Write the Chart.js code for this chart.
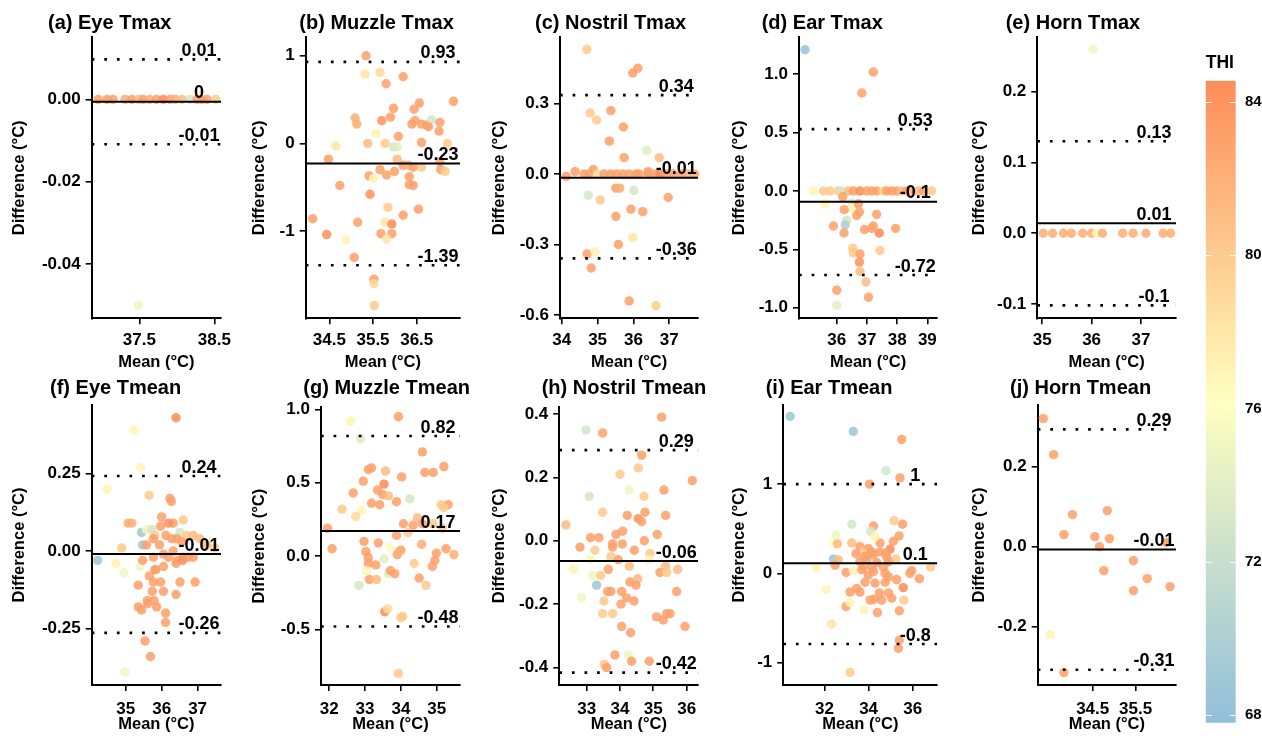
<!DOCTYPE html>
<html>
<head>
<meta charset="utf-8">
<title>Bland-Altman plots by THI</title>
<script src="https://cdn.jsdelivr.net/npm/chart.js@4.4.1/dist/chart.umd.min.js"></script>
<style>
  body { margin: 0; background: #fff; width: 1262px; height: 741px; position: relative; overflow: hidden; }
  canvas { position: absolute; }
</style>
</head>
<body>
<script>
// THI colour scale (legend range and ticks)
const thiMin = 67.8, thiMax = 84.55;
const thiTicks = [68, 72, 76, 80, 84];

// (a) Eye Tmax
const eyeMaxMean = [36.95, 37.07, 37.15, 37.31, 37.40, 37.49, 37.55, 37.64, 37.73, 37.82, 37.91, 37.98, 38.07, 38.18, 38.27, 38.33, 38.40, 38.52, 37.49];
const eyeMaxDiff = [0, 0, 0, 0, 0, 0, 0, 0, 0, 0, 0, 0, 0, 0, 0, 0, 0, 0, -0.05];
const eyeMaxThi = [83, 83, 83, 82, 83, 81, 83, 82, 83, 84.5, 83, 82, 81, 73, 83, 83, 83, 80, 75];

// (b) Muzzle Tmax
const muzzleMaxMean = [35.34, 35.32, 35.66, 35.80, 36.19, 37.34, 36.56, 36.44, 35.97, 35.09,
  35.13, 35.70, 35.90, 36.39, 36.46, 36.61, 36.73, 36.84, 37.03, 36.77,
  37.01, 36.08, 34.65, 35.38, 35.57, 35.78, 35.97, 36.05, 36.61, 37.20,
  34.48, 36.05, 36.19, 36.31, 37.03, 36.61, 36.42, 35.66, 35.81, 35.99,
  37.05, 37.15, 35.41, 35.51, 36.33, 36.33, 36.42, 34.74, 35.43, 35.84,
  36.54, 36.19, 34.12, 35.15, 35.78, 35.93, 34.44, 34.88, 35.68, 35.93,
  35.81, 35.07, 35.52, 35.52, 35.53];
const muzzleMaxDiff = [1.00, 0.79, 0.81, 0.68, 0.76, 0.48, 0.46, 0.39, 0.40, 0.29,
  0.22, 0.26, 0.30, 0.22, 0.26, 0.22, 0.21, 0.27, 0.24, 0.19,
  0.14, 0.08, -0.03, 0.00, 0.11, 0.00, -0.04, -0.04, 0.01, 0.00,
  -0.18, -0.18, -0.25, -0.25, -0.21, -0.27, -0.27, -0.30, -0.36, -0.32,
  -0.30, -0.32, -0.37, -0.40, -0.38, -0.47, -0.48, -0.48, -0.58, -0.73,
  -0.75, -0.82, -0.86, -0.90, -0.90, -0.92, -1.04, -1.10, -1.03, -1.03,
  -1.09, -1.30, -1.55, -1.60, -1.85];
const muzzleMaxThi = [83, 78, 79, 83, 83, 83, 83, 83, 83, 82,
  82, 84, 83, 83, 83, 83, 83, 73, 83, 83,
  83, 83, 78, 81, 77, 80, 73, 74, 83, 80,
  83, 81, 83, 82, 82, 80, 83, 83, 83, 83,
  83, 80, 83, 77, 83, 83, 83, 83, 84, 80,
  83, 83, 83, 83, 78, 84.5, 84, 77, 83, 83,
  78, 83, 83, 79, 80];

// (c) Nostril Tmax
const nostrilMaxMean = [34.70, 35.98, 36.12, 34.79, 34.97, 35.37, 35.72, 35.33, 35.74, 36.37,
  36.72, 34.88, 34.37, 36.41,
  34.12, 34.62, 34.77, 34.99, 35.18, 35.36, 35.53, 35.70, 35.88, 36.07,
  36.16, 36.41, 36.60, 36.74, 36.92, 37.11, 37.34, 37.53, 37.71,
  34.74, 35.07, 35.51, 35.62, 36.01, 36.97, 35.93, 36.26, 35.51, 35.58,
  35.98, 34.71, 34.93, 34.82, 35.88, 36.63];
const nostrilMaxDiff = [0.53, 0.43, 0.45, 0.26, 0.23, 0.27, 0.20, 0.14, 0.07, 0.10,
  0.07, 0.02, 0.01, 0.01,
  -0.01, 0, 0, 0, 0, 0, 0, 0, 0, 0,
  0, 0, 0, 0, 0, 0, 0, 0, 0,
  -0.09, -0.11, -0.06, -0.06, -0.07, -0.10, -0.15, -0.16, -0.18, -0.30,
  -0.27, -0.34, -0.33, -0.40, -0.54, -0.56];
const nostrilMaxThi = [80, 83, 83, 80, 80, 83, 83, 83, 83, 74,
  81, 83, 83, 83,
  83, 83, 83, 79, 83, 83, 83, 83, 83, 83,
  83, 83, 83, 84.5, 83, 83, 83, 82, 82,
  73, 80, 83, 82, 73, 83, 83, 83, 83, 83,
  78, 83, 77, 83, 83, 80];

// (d) Ear Tmax
const earMaxMean = [34.95, 37.21, 36.83,
  35.23, 35.56, 35.78, 36.06, 36.17, 36.39, 36.55, 36.77, 36.99, 37.16, 37.32,
  37.54, 37.65, 37.82, 37.98, 38.15, 38.32, 38.48, 38.70, 38.87, 39.14,
  35.61, 36.20, 36.50, 36.55, 36.72, 36.25, 36.66, 36.75, 37.32, 36.33,
  36.28, 35.89, 36.24, 36.92, 37.16, 37.21, 37.41, 37.95, 36.53, 36.55,
  36.77, 37.43, 36.75, 36.77, 36.97, 36.00, 37.05, 36.00];
const earMaxDiff = [1.21, 1.02, 0.84,
  0, 0, 0, 0, 0, 0, 0, 0, 0, 0, 0,
  0, 0, 0, 0, 0, 0, 0, 0, 0, 0,
  -0.11, -0.05, -0.10, -0.15, -0.11, -0.16, -0.21, -0.18, -0.20, -0.25,
  -0.29, -0.30, -0.36, -0.33, -0.32, -0.30, -0.36, -0.32, -0.49, -0.53,
  -0.54, -0.51, -0.61, -0.69, -0.78, -0.85, -0.91, -0.98];
const earMaxThi = [68.5, 83, 83,
  77, 80, 80, 80, 73, 81, 83, 84.5, 83, 83, 83,
  79, 83, 83, 83, 81, 83, 81, 81, 83, 80,
  77, 83, 74, 77, 83, 83, 83, 83, 83, 73,
  70, 83, 83, 83, 83, 83, 84.5, 83, 80, 80,
  83, 80, 84, 81, 81, 83, 83, 74];

// (e) Horn Tmax
const hornMaxMean = [36.03, 35.02, 35.21, 35.43, 35.59, 35.82, 36.00, 36.10, 36.22, 36.63, 36.84, 37.10, 37.45, 37.60];
const hornMaxDiff = [0.26, 0, 0, 0, 0, 0, 0, 0, 0, 0, 0, 0, 0, 0];
const hornMaxThi = [75, 82, 82, 82, 82, 82, 82, 77, 82, 82, 82, 82, 82, 82];

// (f) Eye Tmean
const eyeMeanMean = [36.40, 35.23, 35.42, 34.49, 35.65, 36.23, 36.27, 35.07, 35.17, 36.00,
  36.32, 36.60, 35.44, 35.58, 35.72, 36.19, 35.97, 36.12, 36.51, 35.47,
  35.81, 36.28, 36.69, 36.88, 37.06, 36.56, 36.42, 35.58, 35.77, 34.89,
  37.48, 37.25, 34.22, 34.73, 35.40, 35.47, 35.77, 35.94, 36.05, 36.19,
  36.32, 36.42, 36.60, 36.74, 36.88, 34.95, 35.81, 35.66, 36.05, 35.84,
  36.40, 36.58, 35.77, 35.97, 35.35, 36.51, 36.93, 35.74, 36.05, 36.40,
  35.60, 35.79, 35.35, 35.44, 35.61, 35.86, 36.11, 36.11, 35.54, 35.69,
  34.98];
const eyeMeanDiff = [0.43, 0.39, 0.27, 0.20, 0.18, 0.17, 0.16, 0.09, 0.09, 0.11,
  0.09, 0.10, 0.06, 0.07, 0.07, 0.09, 0.08, 0.05, 0.06, 0.02,
  0.05, 0.04, 0.05, 0.05, 0.04, 0.03, 0.04, 0.02, 0.04, 0.01,
  0.01, 0.02, -0.03, -0.04, -0.05, -0.03, -0.02, 0.02, -0.01, -0.02,
  0.00, -0.03, -0.02, -0.02, -0.02, -0.07, -0.06, -0.08, -0.05, -0.06,
  -0.04, -0.03, -0.10, -0.10, -0.11, -0.10, -0.10, -0.13, -0.13, -0.14,
  -0.16, -0.16, -0.18, -0.19, -0.17, -0.18, -0.20, -0.23, -0.29, -0.34,
  -0.39];
const eyeMeanThi = [84.5, 77, 77, 77, 80, 83, 83, 82, 82, 83,
  83, 80, 69, 77, 73, 84, 83, 83, 73, 69,
  80, 83, 80, 81, 81, 83, 83, 83, 83, 80,
  80, 81, 69, 77, 75, 83, 83, 83, 83, 83,
  83, 83, 84, 83, 83, 75, 83, 83, 83, 83,
  83, 84, 83, 83, 83, 83, 83, 83, 83, 83,
  83, 83, 83, 83, 83, 83, 83, 83, 83, 83,
  75];

// (g) Muzzle Tmean
const muzzleMeanMean = [33.93, 32.60, 32.87, 34.60, 34.67, 34.90, 35.20, 33.09, 33.18, 33.57,
  34.02, 32.95, 32.67, 33.53, 33.35, 33.49, 33.65, 34.25, 32.36, 32.90,
  32.74, 33.18, 33.41, 33.88, 35.12, 35.32, 35.20, 31.95, 34.07, 34.34,
  34.46, 34.60, 34.90, 35.16, 34.20, 32.08, 32.97, 33.37, 33.88, 33.69,
  33.02, 34.00, 34.58, 34.99, 35.26, 35.48, 33.09, 33.90, 33.95, 33.09,
  33.30, 33.53, 34.95, 34.37, 34.88, 33.04, 33.12, 33.32, 33.65, 33.71,
  33.83, 34.51, 34.70, 32.83, 33.55, 33.63, 34.05, 34.00, 33.93];
const muzzleMeanDiff = [0.95, 0.92, 0.80, 0.71, 0.57, 0.57, 0.61, 0.59, 0.60, 0.58,
  0.54, 0.51, 0.43, 0.49, 0.45, 0.42, 0.41, 0.39, 0.32, 0.31,
  0.27, 0.36, 0.35, 0.37, 0.35, 0.35, 0.33, 0.19, 0.22, 0.21,
  0.26, 0.22, 0.22, 0.19, 0.16, 0.05, 0.10, 0.09, 0.14, 0.06,
  0.03, 0.04, 0.08, 0.02, 0.05, 0.01, -0.01, 0.01, 0.03, -0.05,
  -0.06, -0.02, -0.03, -0.05, -0.07, -0.10, -0.16, -0.16, -0.12, -0.10,
  -0.12, -0.15, -0.20, -0.20, -0.38, -0.36, -0.41, -0.42, -0.80];
const muzzleMeanThi = [83, 77, 73.5, 83, 83, 83, 83, 83, 83, 81,
  83, 83, 83, 84.5, 83, 83, 81, 73, 80, 77,
  79, 83, 83, 83, 80, 83, 80, 83, 83, 83,
  81, 83, 80, 80, 80, 83, 83, 83, 83, 76.5,
  83, 83, 82, 83, 83, 82, 83, 83, 82, 83,
  83, 74, 83, 80, 83, 77, 83, 81, 74, 83,
  83, 83, 80, 73, 84.5, 79, 80, 80, 80];

// (h) Nostril Tmean
const nostrilMeanMean = [35.25, 32.98, 33.48, 34.65, 34.55, 34.00, 36.17, 35.32, 34.28, 34.72,
  33.08, 33.48, 34.22, 34.75, 35.37, 34.55, 34.65, 32.38, 34.08, 33.88,
  35.12, 33.12, 33.37, 33.78, 34.07, 34.73, 32.80, 33.78, 33.25, 34.43,
  34.90, 33.73, 33.95, 33.10, 34.88, 34.28, 35.37, 35.73, 32.60, 35.20,
  35.40, 33.65, 33.18, 33.42, 34.53, 34.30, 33.30, 34.48, 33.63, 33.73,
  34.05, 35.70, 34.20, 34.42, 32.85, 33.52, 34.03, 33.48, 33.78, 35.10,
  35.30, 35.40, 35.50, 34.05, 35.95, 34.32, 33.85, 34.25, 34.35, 34.88,
  33.53, 33.60];
const nostrilMeanDiff = [0.39, 0.35, 0.34, 0.27, 0.23, 0.21, 0.19, 0.16, 0.16, 0.14,
  0.14, 0.09, 0.08, 0.09, 0.08, 0.07, 0.06, 0.05, 0.03, 0.02,
  0.02, 0.01, 0.01, -0.01, -0.01, 0.00, -0.02, -0.02, -0.03, -0.03,
  -0.04, -0.05, -0.06, -0.06, -0.06, -0.08, -0.08, -0.09, -0.09, -0.10,
  -0.10, -0.09, -0.11, -0.11, -0.12, -0.13, -0.14, -0.14, -0.16, -0.16,
  -0.16, -0.16, -0.18, -0.19, -0.18, -0.19, -0.20, -0.23, -0.23, -0.24,
  -0.25, -0.23, -0.23, -0.27, -0.27, -0.29, -0.36, -0.36, -0.38, -0.38,
  -0.39, -0.40];
const nostrilMeanThi = [83, 73, 83, 83, 80, 80, 83, 83, 75, 80,
  73, 80, 83, 83, 83, 84, 83, 81, 83, 83,
  83, 83, 83, 83, 83, 83, 83, 83, 80, 83,
  80, 80, 83, 77, 77, 81, 81, 81, 77, 83,
  80, 83, 75, 80, 81, 83, 69, 83, 83, 83,
  83, 83, 83, 83, 75, 80, 83, 80, 80, 83,
  83, 83, 83, 83, 83, 83, 83, 75, 83, 83,
  80, 83];

// (i) Ear Tmean
const earMeanMean = [30.45, 33.31, 35.50, 34.79, 35.42, 34.04, 33.24, 35.15, 34.22, 35.54,
  34.10, 32.53, 35.38, 35.12, 34.52, 33.24, 32.41, 32.59, 34.29, 33.61,
  33.99, 34.14, 33.73, 34.52, 34.97, 34.79, 32.41, 32.63, 33.43, 33.84,
  34.22, 35.24, 32.48, 33.61, 33.92, 34.37, 34.90, 34.82, 33.76, 34.14,
  34.67, 31.65, 36.81, 32.98, 33.31, 33.69, 34.22, 34.75, 35.95, 35.87,
  33.99, 34.90, 35.27, 36.30, 32.08, 33.46, 33.84, 34.29, 34.75, 35.57,
  33.16, 33.61, 34.49, 34.90, 32.98, 33.16, 34.07, 34.25, 35.05, 35.60,
  34.59, 33.79, 34.40, 35.39, 32.33, 35.39, 35.35, 33.16];
const earMeanDiff = [1.76, 1.59, 1.50, 1.15, 1.07, 1.00, 0.55, 0.59, 0.53, 0.55,
  0.47, 0.43, 0.42, 0.36, 0.34, 0.34, 0.34, 0.33, 0.41, 0.30,
  0.28, 0.24, 0.23, 0.24, 0.27, 0.23, 0.16, 0.15, 0.22, 0.19,
  0.21, 0.16, 0.09, 0.13, 0.15, 0.12, 0.13, 0.18, 0.07, 0.07,
  0.07, 0.06, 0.07, 0.01, 0.03, 0.04, 0.02, 0.00, 0.03, 0.00,
  -0.02, -0.04, -0.07, -0.06, -0.18, -0.17, -0.10, -0.11, -0.10, -0.16,
  -0.21, -0.21, -0.22, -0.22, -0.37, -0.33, -0.30, -0.29, -0.28, -0.30,
  -0.30, -0.41, -0.44, -0.42, -0.57, -0.75, -0.84, -1.11];
const earMeanThi = [69, 69, 83, 73, 83, 83, 73, 80, 83, 83,
  73, 75, 83, 83, 83, 81, 76, 81, 77, 83,
  83, 83, 80, 83, 84.5, 83, 69, 81, 83, 83,
  83, 80, 83, 83, 83, 83, 83, 83, 83, 83,
  83, 77, 80, 83, 77, 83, 83, 83, 83, 83,
  83, 83, 83, 83, 77, 83, 83, 83, 83, 84.5,
  83, 83, 83, 83, 83, 77, 83, 83, 83, 80,
  83, 77, 83, 83, 78, 83, 83, 80];

// (j) Horn Tmean
const hornMeanMean = [33.35, 33.59, 34.03, 34.84, 33.83, 34.55, 34.89, 34.66, 36.22, 34.76, 35.45, 35.77, 35.45, 36.30, 33.51, 33.83];
const hornMeanDiff = [0.32, 0.23, 0.08, 0.09, 0.03, 0.025, 0.02, 0.00, 0.01, -0.06, -0.035, -0.08, -0.11, -0.10, -0.22, -0.315];
const hornMeanThi = [83, 83, 83, 83, 83, 83, 83, 83, 83, 83, 83, 83, 83, 83, 77, 83];

// bias and limits of agreement
const panelTitles = ['(a) Eye Tmax', '(b) Muzzle Tmax', '(c) Nostril Tmax', '(d) Ear Tmax', '(e) Horn Tmax',
  '(f) Eye Tmean', '(g) Muzzle Tmean', '(h) Nostril Tmean', '(i) Ear Tmean', '(j) Horn Tmean'];
const biasValues = [-0.0006, -0.23, -0.016, -0.092, 0.014, -0.0097, 0.17, -0.064, 0.112, -0.007];
const upperLimits = [0.0097, 0.93, 0.336, 0.53, 0.130, 0.242, 0.818, 0.286, 1.0, 0.293];
const lowerLimits = [-0.0109, -1.39, -0.359, -0.72, -0.102, -0.264, -0.48, -0.416, -0.793, -0.308];
const biasLabels = ['0', '-0.23', '-0.01', '-0.1', '0.01', '-0.01', '0.17', '-0.06', '0.1', '-0.01'];
const upperLabels = ['0.01', '0.93', '0.34', '0.53', '0.13', '0.24', '0.82', '0.29', '1', '0.29'];
const lowerLabels = ['-0.01', '-1.39', '-0.36', '-0.72', '-0.1', '-0.26', '-0.48', '-0.42', '-0.8', '-0.31'];

// axes
const xRanges = [[36.865, 38.589], [33.96, 37.49], [33.95, 37.81], [34.75, 39.33], [34.90, 37.71],
  [34.056, 37.65], [31.77, 35.65], [32.18, 36.35], [30.14, 37.11], [33.22, 36.44]];
const yRanges = [[-0.0532, 0.01507], [-1.995, 1.21], [-0.614, 0.582], [-1.091, 1.317], [-0.1202, 0.2769],
  [-0.432, 0.471], [-0.879, 1.014], [-0.455, 0.423], [-1.252, 1.887], [-0.346, 0.354]];
const xTicks = [[37.5, 38.5], [34.5, 35.5, 36.5], [34, 35, 36, 37], [36, 37, 38, 39], [35, 36, 37],
  [35, 36, 37], [32, 33, 34, 35], [33, 34, 35, 36], [32, 34, 36], [34.5, 35.5]];
const yTicks = [[-0.04, -0.02, 0], [-1, 0, 1], [-0.6, -0.3, 0, 0.3], [-1, -0.5, 0, 0.5, 1], [-0.1, 0, 0.1, 0.2],
  [-0.25, 0, 0.25], [-0.5, 0, 0.5, 1], [-0.4, -0.2, 0, 0.2, 0.4], [-1, 0, 1], [-0.2, 0, 0.2]];
const xDecimals = [1, 1, 0, 0, 0, 0, 0, 0, 0, 1];
const yDecimals = [2, 0, 1, 1, 1, 2, 1, 1, 0, 1];

const panelData = [
  [eyeMaxMean, eyeMaxDiff, eyeMaxThi], [muzzleMaxMean, muzzleMaxDiff, muzzleMaxThi],
  [nostrilMaxMean, nostrilMaxDiff, nostrilMaxThi], [earMaxMean, earMaxDiff, earMaxThi],
  [hornMaxMean, hornMaxDiff, hornMaxThi], [eyeMeanMean, eyeMeanDiff, eyeMeanThi],
  [muzzleMeanMean, muzzleMeanDiff, muzzleMeanThi], [nostrilMeanMean, nostrilMeanDiff, nostrilMeanThi],
  [earMeanMean, earMeanDiff, earMeanThi], [hornMeanMean, hornMeanDiff, hornMeanThi]
];

// plot area of each panel on the page, and where its title starts
const boxes = [
  { l: 91.7, t: 37.3, r: 221, b: 318.3, tx: 48, ty: 23.3 },
  { l: 305.7, t: 37.3, r: 460, b: 318.3, tx: 299.3, ty: 23.3 },
  { l: 560, t: 37.3, r: 698.3, b: 318.3, tx: 535, ty: 23.3 },
  { l: 799, t: 37.3, r: 937.3, b: 318.3, tx: 761.7, ty: 23.3 },
  { l: 1037.3, t: 37.3, r: 1176, b: 318.3, tx: 1005.7, ty: 23.3 },
  { l: 91.7, t: 405, r: 221, b: 685, tx: 50, ty: 388.2 },
  { l: 321, t: 407.3, r: 460, b: 685, tx: 303.3, ty: 388.2 },
  { l: 559.3, t: 406.7, r: 698.3, b: 685, tx: 541.7, ty: 388.2 },
  { l: 783.3, t: 405, r: 937.3, b: 685, tx: 765.7, ty: 388.2 },
  { l: 1037.7, t: 405, r: 1176, b: 685, tx: 1010, ty: 388.2 }
];

const FONT = '"Liberation Sans", Arial, Helvetica, sans-serif';
Chart.defaults.font.family = FONT;
Chart.defaults.color = '#000';

const lowRgb = [145, 191, 219], midRgb = [255, 255, 191], highRgb = [252, 141, 89];
function thiColor(v, a) {
  const t = Math.min(1, Math.max(0, (v - thiMin) / (thiMax - thiMin)));
  const c0 = t < 0.5 ? lowRgb : midRgb, c1 = t < 0.5 ? midRgb : highRgb;
  const s = t < 0.5 ? t * 2 : (t - 0.5) * 2;
  const c = c0.map((x, k) => Math.round(x + (c1[k] - x) * s));
  return `rgba(${c[0]},${c[1]},${c[2]},${a})`;
}

// panel title and the labels over the bias / LoA lines
const panelText = {
  id: 'panelText',
  afterDraw(chart, args, opts) {
    const { ctx, chartArea, scales } = chart;
    ctx.save();
    ctx.fillStyle = '#000';
    ctx.font = `bold 20px ${FONT}`;
    ctx.textAlign = 'left';
    ctx.textBaseline = 'middle';
    ctx.fillText(opts.title, opts.tx, opts.ty);
    ctx.font = `bold 18px ${FONT}`;
    ctx.textAlign = 'center';
    ctx.textBaseline = 'alphabetic';
    opts.refs.forEach(r => {
      ctx.fillText(r.text, chartArea.right - 22, scales.y.getPixelForValue(r.value) - 3.5);
    });
    ctx.restore();
  }
};

function addCanvas(x, y, w, h) {
  const c = document.createElement('canvas');
  c.width = w; c.height = h;
  c.style.left = x + 'px'; c.style.top = y + 'px';
  document.body.appendChild(c);
  return c;
}

panelData.forEach(([xs, ys, thi], i) => {
  const col = i % 5, row = i < 5 ? 0 : 1;
  const cx = col * 240, cy = row ? 370 : 0, cw = 240, ch = row ? 371 : 380;
  const b = boxes[i];
  const [xmin, xmax] = xRanges[i];
  const [ymin, ymax] = yRanges[i];
  const refLine = (v, dash, w) => ({
    data: [{ x: xmin, y: v }, { x: xmax, y: v }],
    showLine: true, borderColor: '#000', borderWidth: w, borderDash: dash,
    pointRadius: 0, fill: false
  });
  const tickFont = { size: 17, weight: 'bold' };
  const titleFont = { size: 16.5, weight: 'bold', lineHeight: 1 };

  new Chart(addCanvas(cx, cy, cw, ch), {
    type: 'scatter',
    data: {
      datasets: [
        refLine(biasValues[i], [], 2),
        refLine(upperLimits[i], [2.7, 9.9], 2.6),
        refLine(lowerLimits[i], [2.7, 9.9], 2.6),
        {
          data: xs.map((x, k) => ({ x, y: ys[k] })),
          pointRadius: 4.7, pointHoverRadius: 4.7, pointBorderWidth: 0,
          pointBackgroundColor: thi.map(t => thiColor(t, 0.88)),
          clip: false
        }
      ]
    },
    options: {
      responsive: false,
      animation: false,
      events: [],
      layout: { padding: { left: 0, top: b.t - cy, right: cx + cw - b.r, bottom: 0 } },
      plugins: {
        legend: { display: false },
        tooltip: { enabled: false },
        panelText: {
          title: panelTitles[i], tx: b.tx - cx, ty: b.ty - cy,
          refs: [
            { value: upperLimits[i], text: upperLabels[i] },
            { value: biasValues[i], text: biasLabels[i] },
            { value: lowerLimits[i], text: lowerLabels[i] }
          ]
        }
      },
      scales: {
        x: {
          type: 'linear', min: xmin, max: xmax,
          afterBuildTicks: s => { s.ticks = xTicks[i].map(v => ({ value: v })); },
          afterFit: s => { s.height = cy + ch - b.b; },
          ticks: { autoSkip: false, maxRotation: 0, padding: row ? 8 : 6, font: tickFont,
            callback: v => Number(v).toFixed(xDecimals[i]) },
          grid: { drawOnChartArea: false, drawTicks: true, tickLength: 6, color: '#000', lineWidth: 1.6 },
          border: { display: true, color: '#000', width: 2 },
          title: { display: true, text: 'Mean (°C)', font: titleFont,
            padding: { top: 0, bottom: row ? 8 : 9.25 } }
        },
        y: {
          type: 'linear', min: ymin, max: ymax,
          afterBuildTicks: s => { s.ticks = yTicks[i].map(v => ({ value: v })); },
          afterFit: s => { s.width = b.l - cx; },
          ticks: { autoSkip: false, padding: 5, font: tickFont,
            callback: v => Number(v).toFixed(yDecimals[i]) },
          grid: { drawOnChartArea: false, drawTicks: true, tickLength: 6, color: '#000', lineWidth: 1.6 },
          border: { display: true, color: '#000', width: 2 },
          title: { display: true, text: 'Difference (°C)', font: titleFont,
            padding: { top: 11, bottom: 0 } }
        }
      }
    },
    plugins: [panelText]
  });
});

// THI colour bar
const barTicks = {
  id: 'barTicks',
  afterDatasetsDraw(chart) {
    const { ctx, chartArea, scales } = chart;
    ctx.save();
    ctx.strokeStyle = '#fff';
    ctx.lineWidth = 1;
    thiTicks.forEach(v => {
      const y = Math.round(scales.y.getPixelForValue(v)) + 0.5;
      ctx.beginPath();
      ctx.moveTo(chartArea.left, y); ctx.lineTo(chartArea.left + 6, y);
      ctx.moveTo(chartArea.right - 6, y); ctx.lineTo(chartArea.right, y);
      ctx.stroke();
    });
    ctx.restore();
  }
};

new Chart(addCanvas(1180, 0, 82, 741), {
  type: 'bar',
  data: {
    labels: ['THI'],
    datasets: [{
      data: [[thiMin, thiMax]],
      barPercentage: 1, categoryPercentage: 1, borderWidth: 0,
      backgroundColor: c => {
        const chart = c.chart;
        if (!chart.chartArea) return 'rgba(0,0,0,0)';
        const y = chart.scales.y;
        const g = chart.ctx.createLinearGradient(0, y.getPixelForValue(thiMin), 0, y.getPixelForValue(thiMax));
        g.addColorStop(0, thiColor(thiMin, 1));
        g.addColorStop(0.5, thiColor((thiMin + thiMax) / 2, 1));
        g.addColorStop(1, thiColor(thiMax, 1));
        return g;
      }
    }]
  },
  options: {
    responsive: false,
    animation: false,
    events: [],
    layout: { padding: { left: 25.7, right: 0, top: 0, bottom: 16 } },
    plugins: {
      legend: { display: false },
      tooltip: { enabled: false },
      title: { display: true, text: 'THI', align: 'start',
        font: { size: 17.5, weight: 'bold', lineHeight: 1.2 },
        padding: { top: 52.8, bottom: 6.9 } }
    },
    scales: {
      x: { display: false },
      y: {
        position: 'right', min: thiMin, max: thiMax,
        afterBuildTicks: s => { s.ticks = thiTicks.map(v => ({ value: v })); },
        afterFit: s => { s.width = 26.3; },
        grid: { display: false, drawTicks: false },
        border: { display: false },
        ticks: { padding: 9.3, font: { size: 15, weight: 'bold' } }
      }
    }
  },
  plugins: [barTicks]
});
</script>
</body>
</html>
